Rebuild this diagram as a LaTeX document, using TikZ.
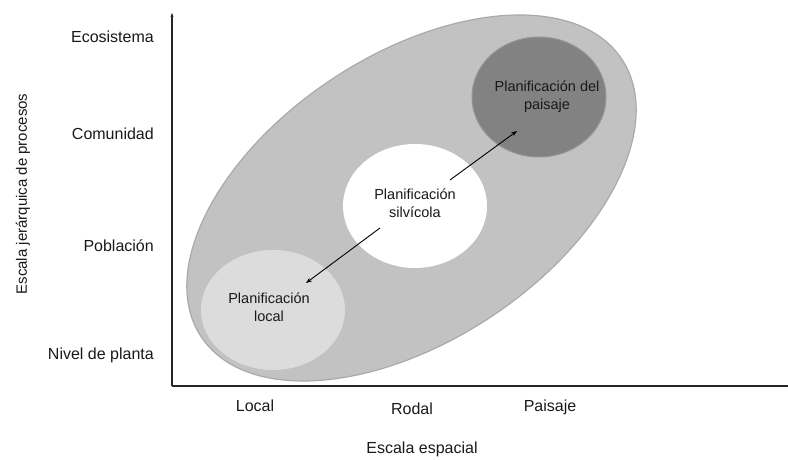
\documentclass[tikz,border=0pt]{standalone}
\usepackage{fontspec}
\setmainfont{Liberation Sans}
\usetikzlibrary{arrows.meta}
\definecolor{ellfill}{RGB}{194,194,194}
\definecolor{ellline}{RGB}{170,170,170}
\definecolor{darkfill}{RGB}{130,130,130}
\definecolor{darkline}{RGB}{150,150,150}
\definecolor{lightfill}{RGB}{220,220,220}
\definecolor{txt}{RGB}{25,25,25}
\tikzset{
  axisline/.style={line width=1.1pt, draw=black!85},
  lvl/.style={anchor=base east, font=\fontsize{16}{19}\selectfont, text=txt, inner sep=0pt},
  xlab/.style={anchor=base, font=\fontsize{16}{19}\selectfont, text=txt, inner sep=0pt},
  inlab/.style={align=center, font=\fontsize{14.5}{18}\selectfont, text=txt, inner sep=0pt},
  link/.style={line width=0.9pt, draw=black, -{Stealth[length=6pt,width=4.5pt]}},
}
\begin{document}
\begin{tikzpicture}[x=1pt,y=1pt]
\useasboundingbox (0,0) rectangle (788,460);
% big ellipse
\fill[ellfill, draw=ellline, line width=1.2pt] (411.5,262) ellipse[x radius=252, y radius=143, rotate=33.4];
% circles
\fill[darkfill, draw=darkline, line width=1pt] (539,363) ellipse[x radius=67, y radius=60];
\fill[white] (415,254) ellipse[x radius=72, y radius=62];
\fill[lightfill] (273,150) ellipse[x radius=72, y radius=60];
% axes
\coordinate (origin) at (172,74);
\coordinate (ytop) at (172,447);
\coordinate (xend) at (788,74);
\draw[axisline, -{Stealth[length=4pt,width=3pt]}] (origin) -- (ytop);
\draw[axisline] (origin) -- (xend);
% inner labels
\node[inlab] (paisaje) at (547,363) {Planificación del\\paisaje};
\node[inlab] (silv) at (415,257) {Planificación\\silvícola};
\node[inlab] (local) at (269,153) {Planificación\\local};
% arrows
\coordinate (s1) at (380,232);
\coordinate (e1) at (306,177);
\coordinate (s2) at (450,280);
\coordinate (e2) at (517,329);
\draw[link] (s1) -- (e1);
\draw[link] (s2) -- (e2);
% y labels
\node[lvl] (eco) at (154,417.5) {Ecosistema};
\node[lvl] (com) at (154,320) {Comunidad};
\node[lvl] (pob) at (154,208) {Población};
\node[lvl] (niv) at (154,100) {Nivel de planta};
\node[rotate=90, font=\fontsize{15}{18}\selectfont, text=txt, inner sep=0pt] (ylab) at (23,266) {Escala jerárquica de procesos};
% x labels
\node[xlab] (xl) at (255,48) {Local};
\node[xlab] (xr) at (412,45) {Rodal};
\node[xlab] (xp) at (550,48) {Paisaje};
\node[xlab] (xt) at (422,6) {Escala espacial};
\end{tikzpicture}
\end{document}
